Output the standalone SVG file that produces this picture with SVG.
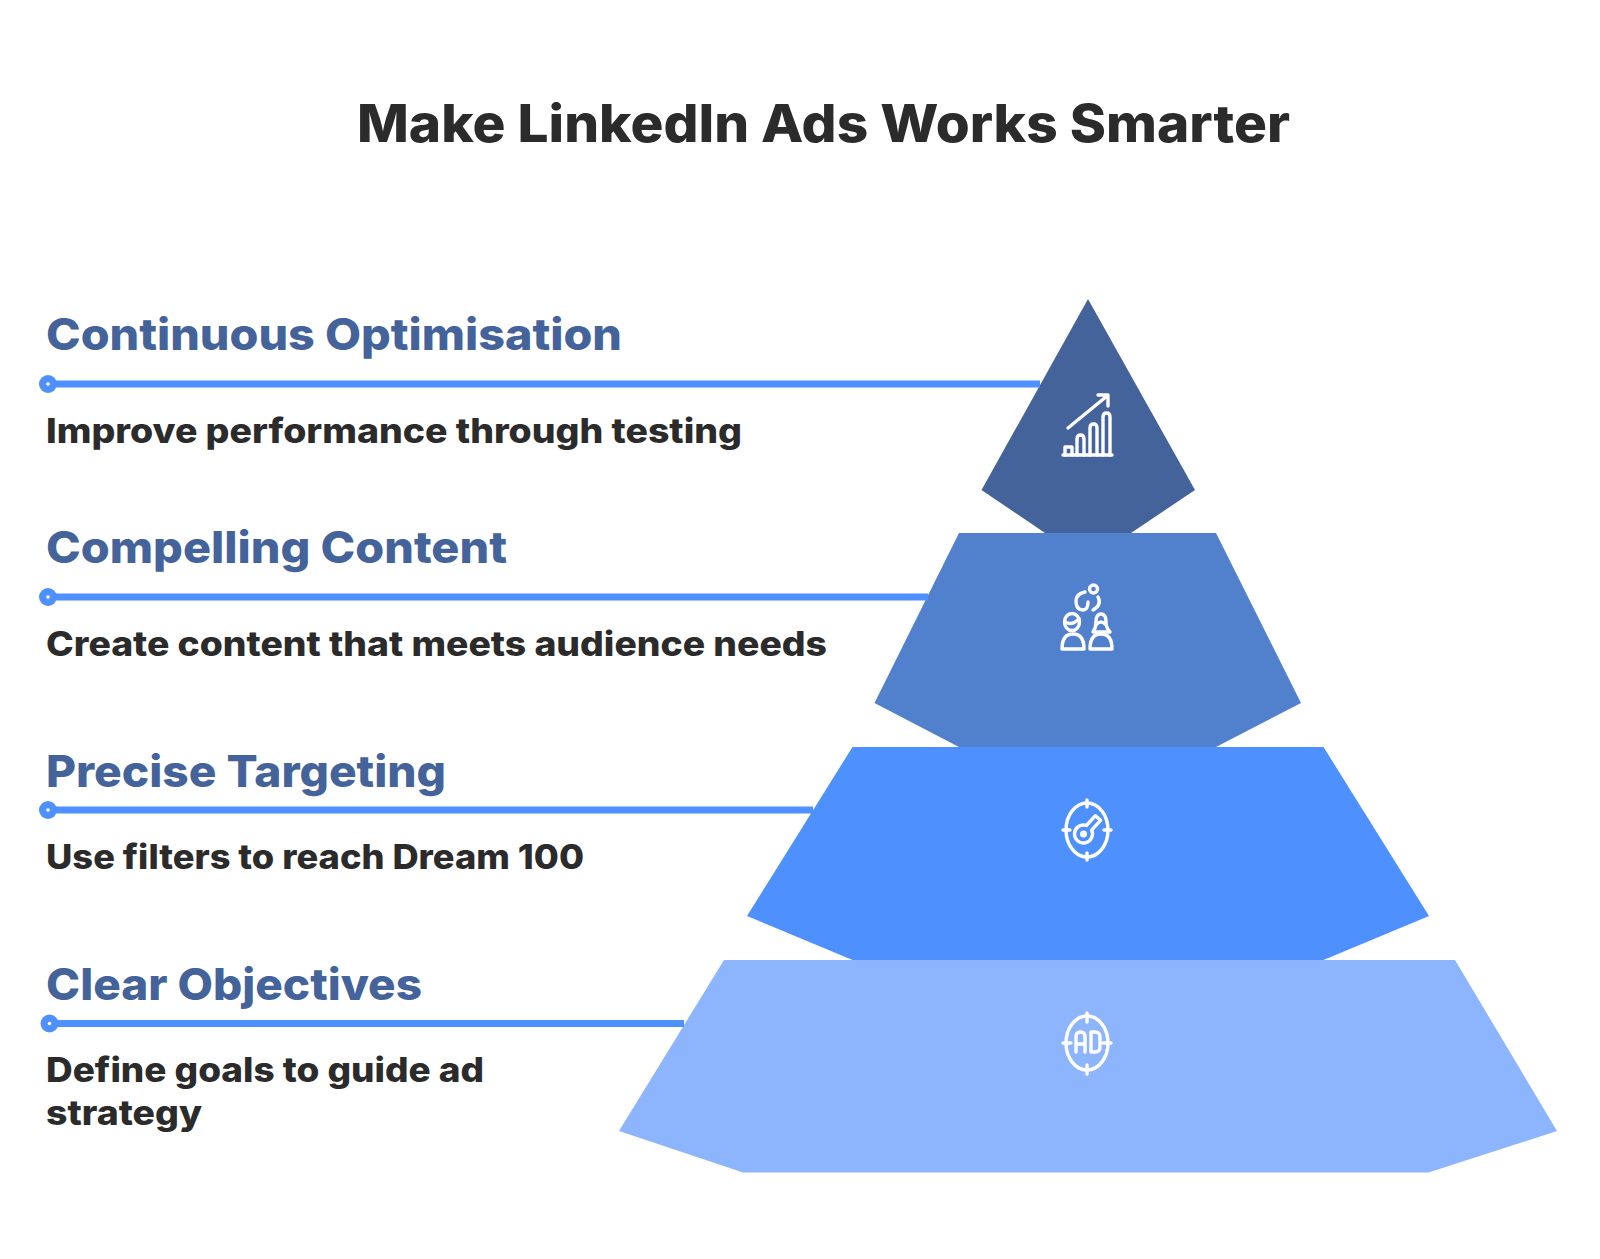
<svg xmlns="http://www.w3.org/2000/svg" width="1600" height="1259" viewBox="0 0 1600 1259">
<style>
text{font-family:"Inter","Liberation Sans",sans-serif;font-weight:800}
.t{font-size:52px;fill:#2b2b2b}
.h{font-size:44px;fill:#44639a}
.d{font-size:34px;fill:#2b2b2b}
.l{stroke:#4d90fe;stroke-width:7;fill:none}
.dot{fill:#4d90fe}
.pin{fill:#fff}
.i{fill:none;stroke:#fff;stroke-width:3.400;stroke-linecap:round;stroke-linejoin:round}
</style>
<rect width="1600" height="1259" fill="#fff"/>
<text id="title" class="t" x="357" y="141.500" textLength="933" lengthAdjust="spacingAndGlyphs">Make LinkedIn Ads Works Smarter</text>
<g id="node-optimisation">
<polygon points="1088,299 1195,490 1131,533 1045,533 981.500,490" fill="#44639a"/>
<g class="i"><path d="M1068,428 L1107,396 M1098,395 H1108 V406"/><path d="M1063,455 H1112"/><path d="M1065,455 V447 H1072 V455 M1077,455 V439 Q1077,435 1080.500,435 Q1084,435 1084,439 V455 M1090,455 V428 Q1090,424 1093.500,424 Q1097,424 1097,428 V455 M1103,455 V417 Q1103,413 1106.500,413 Q1110,413 1110,417 V455"/></g>
<text class="h" x="46" y="350" textLength="576" lengthAdjust="spacingAndGlyphs">Continuous Optimisation</text>
<text class="d" x="46" y="443" textLength="696" lengthAdjust="spacingAndGlyphs">Improve performance through testing</text>
</g>
<g id="node-content">
<polygon points="959,533 1216,533 1301,703 1216,747 959,747 874.500,703" fill="#5180cd"/>
<g class="i"><path d="M1085,592 Q1076,594 1076,601 Q1076,610 1083,610 Q1088,610 1088,602"/><path d="M1098,597 Q1102,605 1093,610"/><circle cx="1093.500" cy="589" r="4"/><ellipse cx="1072" cy="622" rx="7.500" ry="8.500"/><path d="M1065,622 Q1072,626 1079,619"/><path d="M1062,649 Q1062,634 1073,634 Q1084,634 1084,649 Z"/><path d="M1093,632 Q1096,628 1096,622 Q1096,614 1101,614 Q1106,614 1106,622 Q1106,628 1110,632 Z"/><path d="M1097,624 Q1101,620 1105,624"/><path d="M1090,649 Q1090,634 1101,634 Q1112,634 1112,649 Z"/></g>
<text class="h" x="46" y="563" textLength="461" lengthAdjust="spacingAndGlyphs">Compelling Content</text>
<text class="d" x="46" y="656" textLength="781" lengthAdjust="spacingAndGlyphs">Create content that meets audience needs</text>
</g>
<g id="node-targeting">
<polygon points="852.500,747 1323.500,747 1429,916 1323.500,960 852.500,960 747,916" fill="#4d90fe"/>
<g class="i"><ellipse cx="1087" cy="830" rx="21" ry="27"/><path d="M1087,800 V807 M1087,853 V860 M1063,830 H1070 M1104,830 H1111"/><path d="M1086.400,825.500 L1095.400,815.700 L1100.600,820.300 L1091.600,830.100 A9,9 0 1 1 1086.400,825.500 Z"/><circle cx="1083.500" cy="834" r="1.800"/></g>
<text class="h" x="46" y="787" textLength="400" lengthAdjust="spacingAndGlyphs">Precise Targeting</text>
<text class="d" x="46" y="869" textLength="538" lengthAdjust="spacingAndGlyphs">Use filters to reach Dream 100</text>
</g>
<g id="node-objectives">
<polygon points="724,960 1455,960 1557,1131 1428.500,1172.500 743,1172.500 619,1131" fill="#8db5fd"/>
<g class="i"><ellipse cx="1087" cy="1043" rx="21" ry="27"/><path d="M1087,1013 V1022 M1087,1065 V1074 M1063,1043 H1071 M1103,1043 H1111"/><path d="M1076,1052 V1037 Q1076,1032 1080.500,1032 Q1085,1032 1085,1037 V1052 M1076,1044 H1085 M1091,1032 V1052 H1095 Q1100,1052 1100,1047 V1037 Q1100,1032 1095,1032 Z"/></g>
<text class="h" x="46" y="1000" textLength="376" lengthAdjust="spacingAndGlyphs">Clear Objectives</text>
<text class="d" x="46" y="1082" textLength="438" lengthAdjust="spacingAndGlyphs">Define goals to guide ad</text>
<text class="d" x="46" y="1125" textLength="156" lengthAdjust="spacingAndGlyphs">strategy</text>
</g>
<g id="connectors">
<line class="l" x1="48" y1="384" x2="1040" y2="384"/><circle class="dot" cx="48" cy="384" r="9"/><circle class="pin" cx="48" cy="384" r="1.800"/>
<line class="l" x1="48" y1="597" x2="928" y2="597"/><circle class="dot" cx="48" cy="597" r="9"/><circle class="pin" cx="48" cy="597" r="1.800"/>
<line class="l" x1="48" y1="810" x2="813" y2="810"/><circle class="dot" cx="48" cy="810" r="9"/><circle class="pin" cx="48" cy="810" r="1.800"/>
<line class="l" x1="49" y1="1023.500" x2="684" y2="1023.500"/><circle class="dot" cx="49.500" cy="1023.500" r="9"/><circle class="pin" cx="49.500" cy="1023.500" r="1.800"/>
</g>
</svg>
